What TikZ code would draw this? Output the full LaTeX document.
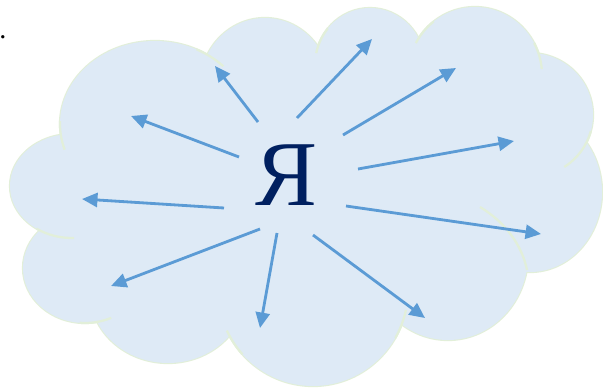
\documentclass[tikz,border=0pt]{standalone}
\usepackage{fontspec}
\setmainfont{Liberation Serif}
\usepackage{tikz}
\usetikzlibrary{arrows.meta}
\definecolor{cloudfill}{RGB}{222, 234, 246}
\definecolor{cloudedge}{RGB}{226, 239, 217}
\definecolor{rayblue}{RGB}{91, 155, 213}
\definecolor{yanavy}{RGB}{0, 32, 96}

\begin{document}
\begin{tikzpicture}[
    x=0.025cm, y=-0.025cm,
    bump/.style={draw=cloudedge, line width=1.6pt},
    crease/.style={draw=cloudedge, line width=1.6pt},
    ray/.style={-{Triangle[length=11pt, width=10pt]}, line width=2pt, draw=rayblue},
    every node/.style={inner sep=0pt}
]
\useasboundingbox (0,0) rectangle (603,388);

% ── cloud: outer edge first, then the fill covers the inner parts ──
\foreach \cx/\cy/\rx/\ry in {155/124/95/83, 265/86/65/68, 370/65/55/57, 475/75/67/68,
    530/115/63/62, 530/192/72/80, 448/255/80/85, 313/290/95/96, 168/292/78/71,
    85/268/62/55, 72/186/62/52}
  \draw[bump] (\cx,\cy) ellipse [x radius=\rx, y radius=-\ry];
\foreach \cx/\cy/\rx/\ry in {155/124/95/83, 265/86/65/68, 370/65/55/57, 475/75/67/68,
    530/115/63/62, 530/192/72/80, 448/255/80/85, 313/290/95/96, 168/292/78/71,
    85/268/62/55, 72/186/62/52, 300/200/210/120}
  \fill[cloudfill] (\cx,\cy) ellipse [x radius=\rx, y radius=-\ry];

% inner creases
\foreach \cx/\cy/\rx/\ry/\ta/\tb in {155/124/95/83/64/44, 370/65/55/57/140/168,
    475/75/67/68/128/152, 475/75/67/68/28/5, 530/115/63/62/-15/-57,
    313/290/95/96/-30/-12, 313/290/95/96/222/205, 85/268/62/55/-95/-65,
    72/186/62/52/235/272, 155/124/95/83/178/198}
  \draw[crease] ({\cx+\rx*cos(\ta)},{\cy-\ry*sin(\ta)}) arc[start angle=\ta, end angle=\tb, x radius=\rx, y radius=-\ry];
\draw[crease] (480,207) .. controls (505,222) and (522,245) .. (527,270);

% ── the letter and its rays ──
\node[anchor=base, text=yanavy, font=\fontsize{66}{70}\selectfont] (ya) at (286,205) {Я};

\foreach \n/\sx/\sy/\ex/\ey in {1/258/122/215/66, 2/297/118/372/39, 3/343/135/456/68,
    4/358/169/514/141, 5/346/206/541/234, 6/313/235/425/318, 7/277/233/260/328,
    8/260/229/111/286, 9/224/208/82/199, 10/239/157/131/116} {
  \coordinate (s\n) at (\sx,\sy);
  \coordinate (e\n) at (\ex,\ey);
  \draw[ray] (s\n) -- (e\n);
}

\node[font=\fontsize{20}{20}\selectfont] (dot) at (3,37) {.};

\end{tikzpicture}
\end{document}
